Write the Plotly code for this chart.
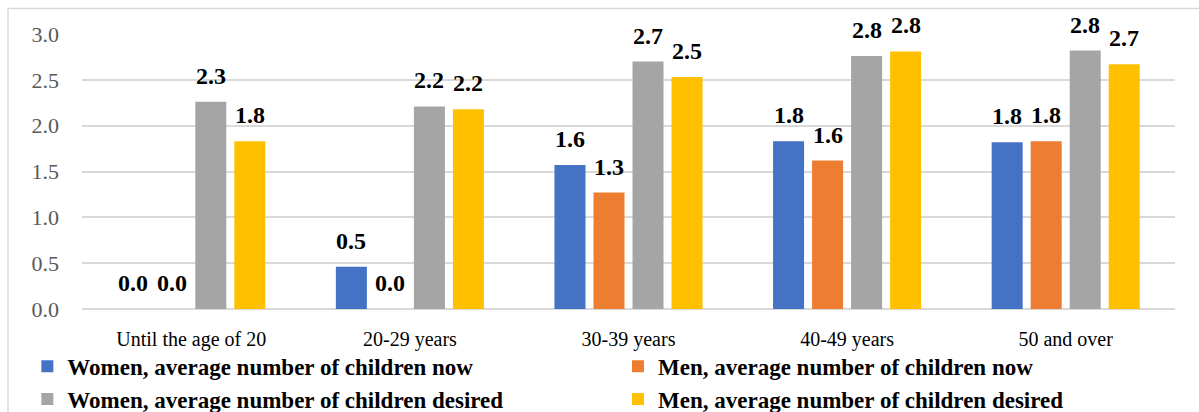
import plotly.graph_objects as go

categories = ["Until the age of 20", "20-29 years", "30-39 years", "40-49 years", "50 and over"]

women_now = [0.0, 0.46, 1.57, 1.83, 1.82]
men_now = [0.0, 0.0, 1.27, 1.62, 1.83]
women_desired = [2.26, 2.21, 2.70, 2.76, 2.82]
men_desired = [1.83, 2.18, 2.53, 2.81, 2.67]

series_names = [
    "Women, average number of children now",
    "Men, average number of children now",
    "Women, average number of children desired",
    "Men, average number of children desired",
]
series_values = [women_now, men_now, women_desired, men_desired]
series_colors = ["#4472C4", "#ED7D31", "#A5A5A5", "#FFC000"]
# women's series listed in the left legend column, men's in the right one
series_legends = ["legend", "legend2", "legend", "legend2"]

y_ticks = [0.0, 0.5, 1.0, 1.5, 2.0, 2.5, 3.0]

BARGAP = 0.286
BARGROUPGAP = 0.205
SERIF = "Liberation Serif, Times New Roman, serif"

fig = go.Figure()
for name, vals, color, lg in zip(series_names, series_values, series_colors, series_legends):
    fig.add_trace(go.Bar(
        name=f"<b>{name}</b>",
        x=categories,
        y=vals,
        legend=lg,
        marker=dict(color=color, line=dict(width=0)),
        hovertemplate=f"{name}<br>%{{x}}: %{{y:.2f}}<extra></extra>",
    ))

# Value labels above each bar, placed at the bar's slot within its group
slot = (1 - BARGAP) / len(series_values)
annotations = []
for k, vals in enumerate(series_values):
    offset = (k - (len(series_values) - 1) / 2) * slot
    for i, v in enumerate(vals):
        annotations.append(dict(
            x=i + offset, y=v, xref="x", yref="y",
            text=f"<b>{v:.1f}</b>", showarrow=False,
            yanchor="bottom", yshift=11,
            font=dict(family=SERIF, size=24, color="#000000"),
        ))

legend_style = dict(
    orientation="v",
    yanchor="top", y=-0.13,
    xanchor="left",
    font=dict(family=SERIF, size=23, color="#000000"),
    itemclick=False, itemdoubleclick=False,
    traceorder="normal",
    tracegroupgap=0,
    bgcolor="rgba(0,0,0,0)",
    borderwidth=0,
)

fig.update_layout(
    width=1199, height=412,
    margin=dict(l=82, r=24, t=33.5, b=103, autoexpand=False),
    paper_bgcolor="white",
    plot_bgcolor="white",
    barmode="group",
    bargap=BARGAP,
    bargroupgap=BARGROUPGAP,
    annotations=annotations,
    showlegend=True,
    legend=dict(x=-0.05, **legend_style),
    legend2=dict(x=0.4904, **legend_style),
    shapes=[dict(
        type="rect", xref="paper", yref="paper",
        x0=-0.0677, x1=1.05, y0=-0.5, y1=1.0926,
        line=dict(color="#D9D9D9", width=1.5),
        fillcolor="rgba(0,0,0,0)", layer="below",
    )],
)

fig.update_xaxes(
    type="category",
    showgrid=False,
    showline=False,
    ticks="",
    tickfont=dict(family=SERIF, size=20, color="#000000"),
    ticklabelstandoff=16,
)
fig.update_yaxes(
    range=[0, 3],
    tickvals=y_ticks,
    ticktext=[f"{t:.1f}" for t in y_ticks],
    showgrid=True,
    gridcolor="#D9D9D9",
    gridwidth=1.5,
    zeroline=True,
    zerolinecolor="#D9D9D9",
    zerolinewidth=1.5,
    showline=False,
    ticks="",
    tickfont=dict(family=SERIF, size=22, color="#595959"),
    ticklabelstandoff=22,
)
fig.update_traces(cliponaxis=False)

fig.write_html("out.html")
